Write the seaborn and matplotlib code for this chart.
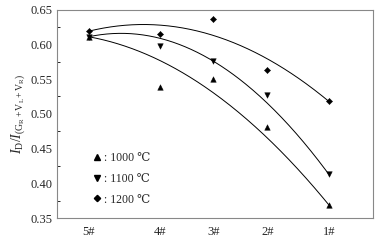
import numpy as np
import pandas as pd
import matplotlib
matplotlib.use('Agg')
import matplotlib.pyplot as plt
import seaborn as sns
from matplotlib.ticker import MultipleLocator
from matplotlib.lines import Line2D

# sample positions along the x axis (uneven spacing as in the original)
samples = ['5#', '4#', '3#', '2#', '1#']
x_pos = [1.0, 3.25, 4.95, 6.65, 8.6]

# measured ratios
ratio_1000 = [0.611, 0.539, 0.550, 0.481, 0.369]
ratio_1100 = [0.611, 0.598, 0.576, 0.527, 0.413]
ratio_1200 = [0.619, 0.615, 0.636, 0.563, 0.518]

series_names = [': 1000 \u2103', ': 1100 \u2103', ': 1200 \u2103']
markers = ['^', 'v', 'D']
marker_sizes = [16, 16, 10]

sns.set_theme(style='white')
plt.rcParams['font.family'] = ['Liberation Serif', 'DejaVu Serif']
plt.rcParams['mathtext.fontset'] = 'custom'
plt.rcParams['mathtext.rm'] = 'Liberation Serif'
plt.rcParams['mathtext.it'] = 'Liberation Serif:italic'


def end_fixed_quadratic(x, y, xs):
    # quadratic through the first and last points, curvature by least squares
    x = np.asarray(x)
    y = np.asarray(y)
    lin = lambda t: y[0] + (y[-1] - y[0]) * (t - x[0]) / (x[-1] - x[0])
    p = (x - x[0]) * (x - x[-1])
    c = np.sum((y - lin(x)) * p) / np.sum(p * p)
    return lin(xs) + c * (xs - x[0]) * (xs - x[-1])


fig = plt.figure(figsize=(3.83, 2.42), dpi=100)
ax = fig.add_axes([0.149, 0.099, 0.825, 0.861])

xs = np.linspace(min(x_pos), max(x_pos), 200)
all_vals = [ratio_1000, ratio_1100, ratio_1200]
for name, vals, m, s in zip(series_names, all_vals, markers, marker_sizes):
    sns.lineplot(x=xs, y=end_fixed_quadratic(x_pos, vals, xs), ax=ax, color='black', lw=0.7)
    sns.scatterplot(x=x_pos, y=vals, marker=m, color='black', s=s, edgecolor='black',
                    linewidth=0.3, ax=ax, zorder=3)

ax.set_xlim(0, 10)
ax.set_ylim(0.35, 0.65)
ax.set_xticks(x_pos)
ax.set_xticklabels(samples)
ax.yaxis.set_major_locator(MultipleLocator(0.05))
ax.yaxis.set_minor_locator(MultipleLocator(0.025))
ax.yaxis.set_major_formatter(plt.FormatStrFormatter('%.2f'))
ax.tick_params(axis='y', which='major', direction='in', length=4, width=0.7, labelsize=9, pad=3)
ax.tick_params(axis='y', which='minor', direction='in', length=2, width=0.7, left=True)
ax.tick_params(axis='x', length=0, labelsize=9, pad=6)
for sp in ax.spines.values():
    sp.set_color('#888888')
    sp.set_linewidth(0.8)

ax.set_xlabel('')
ax.set_ylabel(r'$I_{\rm D}/I_{({\rm G_R+V_L+V_R})}$', fontsize=10, labelpad=3)

handles = [Line2D([], [], marker=m, color='black', ls='', markersize=ms)
           for m, ms in zip(markers, [4, 4, 3.2])]
ax.legend(handles, series_names, loc='lower left', bbox_to_anchor=(0.08, 0.02),
          frameon=False, fontsize=8.5, handletextpad=0.1, handlelength=1.0,
          labelspacing=0.75, borderaxespad=0.3)

fig.savefig('out.png', dpi=100)
